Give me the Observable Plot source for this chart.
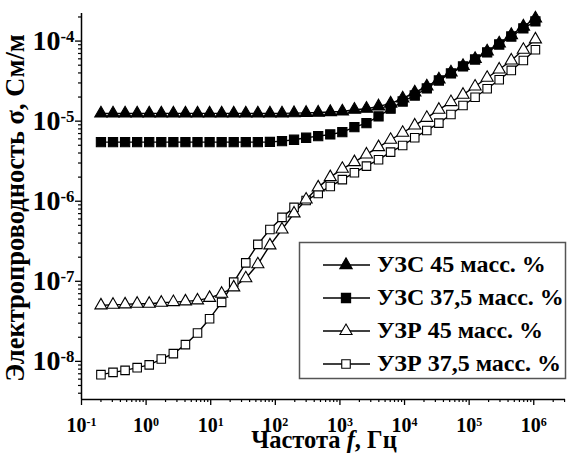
<!DOCTYPE html>
<html><head><meta charset="utf-8">
<script src="https://cdn.jsdelivr.net/npm/d3@7"></script>
<script src="https://cdn.jsdelivr.net/npm/@observablehq/plot@0.6"></script>
<style>
body{margin:0;background:#fff;}
#chart{position:relative;width:571px;height:453px;}
</style></head><body><div id="chart"></div>
<script>
// Frequencies, Hz
const freq = [0.200,0.3075,0.4727,0.7269,1.117,1.718,2.641,4.061,6.244,9.602,14.76,22.69,34.88,53.63,82.46,126.8,194.9,299.7,460.8,708.5,1089,1675,2575,3959,6087,9354,14385,22115,34000,52270,80350,123550,189950,292000,449000,690200,1061000];
// Conductivity, S/m
const uzs45 = [1.25e-5,1.25e-5,1.25e-5,1.25e-5,1.25e-5,1.25e-5,1.25e-5,1.25e-5,1.25e-5,1.25e-5,1.25e-5,1.25e-5,1.25e-5,1.25e-5,1.25e-5,1.25e-5,1.26e-5,1.27e-5,1.28e-5,1.30e-5,1.32e-5,1.39e-5,1.43e-5,1.53e-5,1.66e-5,1.92e-5,2.28e-5,2.71e-5,3.32e-5,4.06e-5,4.89e-5,5.98e-5,7.42e-5,9.33e-5,1.19e-4,1.52e-4,1.92e-4];
const uzs375 = [5.47e-6,5.47e-6,5.47e-6,5.47e-6,5.47e-6,5.47e-6,5.47e-6,5.47e-6,5.47e-6,5.47e-6,5.47e-6,5.47e-6,5.47e-6,5.47e-6,5.50e-6,5.63e-6,5.86e-6,6.21e-6,6.50e-6,6.82e-6,7.29e-6,8.41e-6,9.44e-6,1.145e-5,1.43e-5,1.76e-5,2.09e-5,2.56e-5,3.22e-5,3.94e-5,4.82e-5,5.89e-5,7.21e-5,9.07e-5,1.14e-4,1.44e-4,1.76e-4];
const uzr45 = [5.00e-8,5.10e-8,5.15e-8,5.25e-8,5.25e-8,5.40e-8,5.50e-8,5.61e-8,5.77e-8,6.21e-8,7.00e-8,8.39e-8,1.09e-7,1.63e-7,2.81e-7,4.44e-7,7.04e-7,1.05e-6,1.49e-6,2.00e-6,2.54e-6,3.08e-6,3.84e-6,4.74e-6,5.86e-6,7.16e-6,8.84e-6,1.10e-5,1.39e-5,1.73e-5,2.14e-5,2.71e-5,3.48e-5,4.42e-5,5.73e-5,7.79e-5,1.05e-4];
const uzr375 = [6.82e-9,7.29e-9,7.72e-9,8.34e-9,9.04e-9,1.07e-8,1.25e-8,1.62e-8,2.26e-8,3.41e-8,5.45e-8,9.77e-8,1.70e-7,2.89e-7,4.44e-7,6.28e-7,8.37e-7,1.02e-6,1.25e-6,1.53e-6,1.86e-6,2.27e-6,2.74e-6,3.30e-6,4.10e-6,4.97e-6,6.21e-6,7.65e-6,9.44e-6,1.21e-5,1.57e-5,1.99e-5,2.54e-5,3.29e-5,4.30e-5,5.73e-5,7.79e-5];
const seriesNames = ["УЗС 45 масс. %","УЗС 37,5 масс. %","УЗР 45 масс. %","УЗР 37,5 масс. %"];
const xTicks = [1e-1,1e0,1e1,1e2,1e3,1e4,1e5,1e6];
const xTickExp = ["-1","0","1","2","3","4","5","6"];
const yTicks = [1e-8,1e-7,1e-6,1e-5,1e-4];
const yTickExp = ["-8","-7","-6","-5","-4"];
const xLabel = ["Частота ","f",", Гц"];
const yLabel = "Электропроводность σ, См/м";

const xDomain = [0.1, 3.1e6];
const yDomain = [3.34e-9, 2.21e-4];
const xMinor = [], yMinor = [];
for (let d = -1; d <= 6; d++) for (let k = 2; k <= 9; k++) { const v = k*Math.pow(10,d); if (v < xDomain[1]) xMinor.push(v); }
for (let d = -9; d <= -4; d++) for (let k = 2; k <= 9; k++) { const v = k*Math.pow(10,d); if (v > yDomain[0] && v < yDomain[1]) yMinor.push(v); }

const vals = [uzs45, uzs375, uzr45, uzr375];
const rows = vals.map((arr,k) => freq.map((f,i) => ({f, v: arr[i], s: seriesNames[k]})));
const sty = [
  {symbol:"triangle", fill:"black", r:4.6},
  {symbol:"square", fill:"black", r:5.2},
  {symbol:"triangle", fill:"white", r:4.5},
  {symbol:"square", fill:"white", r:4.8}
];
const FONT = "Liberation Serif";
const order = [3,2,1,0];

const plot = Plot.plot({
  width:571, height:453,
  marginLeft:81, marginRight:6, marginTop:13, marginBottom:54,
  style:{background:"#fff", fontFamily:FONT, fontWeight:"bold", color:"black"},
  x:{type:"log", domain:xDomain, label:null},
  y:{type:"log", domain:yDomain, label:null},
  marks:[
    Plot.axisX(xMinor, {tickSize:3, tickFormat:()=>"", strokeWidth:1.2, label:null}),
    Plot.axisY(yMinor, {tickSize:3, tickFormat:()=>"", strokeWidth:1.2, label:null}),
    Plot.axisX(xTicks, {tickSize:6, tickPadding:12, strokeWidth:1.3, fontSize:20, tickFormat:(d)=>xTickExp[xTicks.indexOf(d)], label:null}),
    Plot.axisY(yTicks, {tickSize:6, tickPadding:1, strokeWidth:1.3, fontSize:28, tickFormat:(d)=>yTickExp[yTicks.indexOf(d)], label:null}),
    Plot.ruleY([yDomain[0]], {stroke:"black", strokeWidth:1.5}),
    Plot.ruleX([xDomain[0]], {stroke:"black", strokeWidth:1.5}),
    ...order.map(k => Plot.line(rows[k], {x:"f", y:"v", stroke:"black", strokeWidth:1.4})),
    ...order.map(k => Plot.dot(rows[k], {x:"f", y:"v", symbol:()=>sty[k].symbol, r:sty[k].r, fill:sty[k].fill, stroke:"black", strokeWidth:1.1}))
  ]
});
document.getElementById("chart").appendChild(plot);

const svg = d3.select(plot);
svg.selectAll('g[aria-label="x-axis tick label"] text, g[aria-label="y-axis tick label"] text').each(function(){
  const t = d3.select(this); const e = t.text(); if (!e) return;
  t.text("");
  t.append("tspan").text("10");
  t.append("tspan").attr("dy","-0.5em").attr("font-size","0.6em").text(e);
});

// axis titles
const xt = svg.append("text").attr("x",324).attr("y",448).attr("text-anchor","middle")
  .attr("font-family",FONT).attr("font-weight","bold").attr("font-size",24.5).attr("fill","black");
xt.append("tspan").text(xLabel[0]);
xt.append("tspan").attr("font-style","italic").text(xLabel[1]);
xt.append("tspan").text(xLabel[2]);
svg.append("text").attr("transform","translate(24,208) rotate(-90)").attr("text-anchor","middle")
  .attr("font-family",FONT).attr("font-weight","bold").attr("font-size",26.5).attr("fill","black").text(yLabel);

// legend
const lg = svg.append("g");
lg.append("rect").attr("x",299.5).attr("y",242.5).attr("width",266).attr("height",136)
  .attr("fill","white").attr("stroke","#555").attr("stroke-width",1.5);
const rowsY = [265,298,331,364];
seriesNames.forEach((name,k)=>{
  const y = rowsY[k];
  lg.append("line").attr("x1",323).attr("x2",370).attr("y1",y).attr("y2",y).attr("stroke","black").attr("stroke-width",1.4);
  const sym = sty[k].symbol==="triangle" ? d3.symbolTriangle : d3.symbolSquare;
  lg.append("path").attr("d", d3.symbol(sym, sty[k].r*sty[k].r*Math.PI)()).attr("transform",`translate(346,${y})`)
    .attr("fill",sty[k].fill).attr("stroke","black").attr("stroke-width",1.1);
  lg.append("text").attr("x",377).attr("y",y+7).attr("text-anchor","start").attr("font-family",FONT).attr("font-weight","bold")
    .attr("font-size",24).attr("fill","black").text(name);
});
</script></body></html>
